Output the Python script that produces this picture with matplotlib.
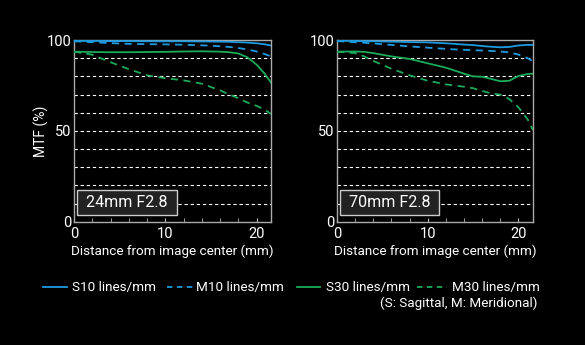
import matplotlib.pyplot as plt
from matplotlib.lines import Line2D

plt.rcParams['font.family'] = ['Roboto', 'DejaVu Sans']

# 24mm F2.8 readings (distance mm, MTF %)
x24 = [0, 2, 4, 6, 8, 10, 12, 14, 16, 17, 18, 19, 20, 20.8, 21.6]
s10_24 = [99.5, 99.5, 99.4, 99.4, 99.3, 99.3, 99.3, 99.2, 99.1, 99.0, 98.8, 98.6, 98.2, 97.7, 97.0]
m10_24 = [99.3, 98.8, 98.3, 97.9, 97.7, 97.6, 97.4, 97.1, 96.6, 96.2, 95.6, 94.8, 93.7, 92.4, 91.0]
s30_24 = [93.6, 93.4, 93.3, 93.3, 93.4, 93.5, 93.7, 93.8, 93.6, 93.3, 92.6, 90.5, 86.5, 82.0, 76.5]
m30_24 = [93.6, 91.9, 87.8, 84.0, 80.6, 79.0, 77.8, 76.0, 72.3, 70.0, 68.0, 65.6, 63.8, 62.0, 59.3]

# 70mm F2.8 readings
x70 = [0, 2, 3, 4, 6, 8, 10, 12, 14, 15, 16, 17, 18, 19, 20, 21, 21.6]
s10_70 = [99.6, 99.5, 99.4, 99.3, 99.1, 98.9, 98.7, 98.2, 97.5, 97.2, 96.7, 96.3, 96.0, 96.2, 97.0, 97.3, 97.3]
m10_70 = [99.4, 98.8, 98.5, 98.1, 97.3, 96.5, 95.8, 95.1, 94.6, 94.4, 94.2, 94.0, 93.7, 93.2, 92.0, 90.0, 88.3]
s30_70 = [93.6, 93.7, 93.5, 92.8, 91.0, 89.6, 87.2, 84.8, 81.5, 80.0, 79.8, 78.6, 77.3, 77.6, 80.2, 81.3, 81.5]
m30_70 = [93.6, 92.8, 91.0, 88.5, 84.2, 80.6, 77.6, 75.6, 74.3, 73.5, 72.0, 70.6, 70.0, 67.5, 63.0, 56.5, 50.5]

blue = '#1e9be0'
green = '#1bab5a'
dash = (0, (4, 3))
lens_labels = ['24mm F2.8', '70mm F2.8']
series_names = ['S10 lines/mm', 'M10 lines/mm', 'S30 lines/mm', 'M30 lines/mm']
series_styles = [(blue, '-'), (blue, dash), (green, '-'), (green, dash)]

W, H = 585, 345
fig = plt.figure(figsize=(W / 100, H / 100), dpi=100, facecolor='black')
ax1 = fig.add_axes([0.1265, 0.357, 0.337, 0.527])
ax2 = fig.add_axes([0.576, 0.357, 0.335, 0.527])

panels = [(ax1, x24, [s10_24, m10_24, s30_24, m30_24]),
          (ax2, x70, [s10_70, m10_70, s30_70, m30_70])]

for i, (ax, xs, ys) in enumerate(panels):
    ax.set_facecolor('black')
    for g in range(10, 100, 10):
        ax.axhline(g, color='white', lw=0.8, ls=(0, (3, 2.5)), zorder=1)
    for y, (c, ls) in zip(ys, series_styles):
        ax.plot(xs, y, color=c, lw=1.3, ls=ls, zorder=3)
    ax.set_xlim(0, 21.6)
    ax.set_ylim(0, 100)
    ax.set_yticks([0, 50, 100])
    ax.set_xticks([0, 10, 20])
    ax.set_xticks(range(0, 22, 2), minor=True)
    ax.tick_params(axis='x', which='both', direction='in', length=3, color='#bbbbbb',
                   labelcolor='white', labelsize=10.5, pad=4)
    ax.tick_params(axis='y', length=0, labelcolor='white', labelsize=10.5, pad=2)
    for sp in ax.spines.values():
        sp.set_color('#aaaaaa')
        sp.set_linewidth(1)
    ax.set_xlabel('Distance from image center (mm)', color='white', fontsize=9.7, labelpad=2)
    # lens name box, padded with spaces to widen it like the original
    ax.text(0.9, 10.6, ' ' + lens_labels[i] + ' ', color='white', fontsize=11.5,
            va='center', ha='left', zorder=5,
            bbox=dict(boxstyle='square,pad=0.3', fc='#222222', ec='#cccccc', lw=1))

ax1.set_ylabel('MTF (%)', color='white', fontsize=10, labelpad=-2)

# legend drawn item by item
leg_y = 1 - 287 / H
leg_pos = [(43, 67, 72), (167, 194, 196), (297, 320, 326), (417, 447, 452)]
for (x0, x1, xt), name, (c, ls) in zip(leg_pos, series_names, series_styles):
    fig.add_artist(Line2D([x0 / W, x1 / W], [leg_y, leg_y], color=c, lw=1.3,
                          ls=(0, (3, 2.5)) if ls != '-' else '-', transform=fig.transFigure))
    fig.text(xt / W, leg_y, name, color='white', fontsize=9.7, ha='left', va='center')
fig.text(537 / W, 1 - 303 / H, '(S: Sagittal, M: Meridional)', color='white', fontsize=9.7,
         ha='right', va='center')

fig.savefig('out.png', dpi=100, facecolor='black')
